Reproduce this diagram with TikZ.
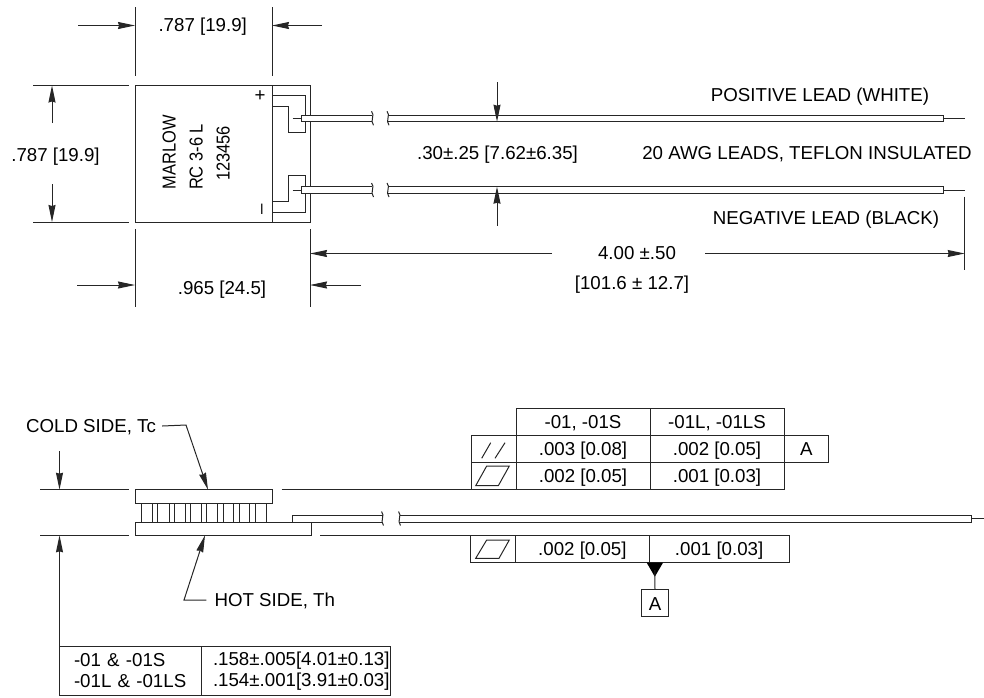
\documentclass[tikz,border=0pt]{standalone}
\usepackage{fontspec}
\setmainfont{Liberation Sans}
\usetikzlibrary{calc,positioning,arrows.meta}
\tikzstyle{line}      = [line width=1pt,draw=black!85]
\tikzstyle{dimarrow}  = [line,-{Stealth[length=17pt,width=7pt,inset=1pt]}]
\tikzstyle{label}     = [font=\fontsize{18.7}{21}\selectfont,inner sep=0pt,text height=13.4pt,text depth=0pt]
\tikzstyle{part}      = [line,rectangle,inner sep=0pt,outer sep=0pt,anchor=north west]
\tikzstyle{cell}      = [part,font=\fontsize{18.7}{21}\selectfont,anchor=center,minimum height=27pt,text height=13.4pt,text depth=0pt]
\newcommand{\breakmark}[2]{\draw[line] (#1-1,#2-7) .. controls (#1+3,#2-3) and (#1-3,#2+2) .. (#1+1,#2+7);}
\begin{document}
\begin{tikzpicture}[x=1pt,y=-1pt]
    \useasboundingbox (0,0) rectangle (984,697);

    % top view, body and tab
    \node[part,minimum width=137pt,minimum height=136.5pt] (body) at (135,85.5) {};
    \node[part,minimum width=38pt,minimum height=136.5pt] (tab) at (272,85.5) {};
    \draw[line] (272,95.7) -- (305.7,95.7) -- (305.7,132) -- (288,132) -- (288,106.7) -- (272,106.7);
    \draw[line] (272,212) -- (305.7,212) -- (305.7,175.7) -- (288,175.7) -- (288,201.7) -- (272,201.7);
    \node[label,rotate=90,transform shape,xscale=.88] (marlow) at (169,152) {MARLOW};
    \node[label,rotate=90,transform shape,xscale=.88] (model) at (196,157) {RC 3-6 L};
    \node[label,rotate=90,transform shape,xscale=.88] (serial) at (223,153.5) {123456};
    \node[label] (plus) at (260,95) {+};
    \node[label,rotate=90] (minus) at (260,209) {–};

    % top view, leads
    \foreach \y in {115,186.7} {
        \draw[line,fill=white] (372,\y) -- (301.5,\y) -- (301.5,\y+6.7) -- (372,\y+6.7);
        \draw[line,fill=white] (388,\y) -- (943,\y) -- (943,\y+6.7) -- (388,\y+6.7);
        \draw[line] (292.7,\y+3.3) -- (301.5,\y+3.3);
        \draw[line] (943,\y+3.3) -- (964.7,\y+3.3);
        \breakmark{372.5}{\y+3.3}
        \breakmark{388}{\y+3.3}
    }
    \node[label] (poslead) at (820,95) {POSITIVE LEAD (WHITE)};
    \node[label] (awg) at (807,153) {20 AWG LEADS, TEFLON INSULATED};
    \node[label] (neglead) at (826,218) {NEGATIVE LEAD (BLACK)};

    % top view, dimensions
    \node[label] (widthtext) at (202.7,25) {.787 [19.9]};
    \node[label] (heighttext) at (55.5,155) {.787 [19.9]};
    \node[label] (lengthtext) at (222,288) {.965 [24.5]};
    \node[label] (spacetext) at (497.5,153) {.30±.25 [7.62±6.35]};
    \node[label] (leadtext) at (637,253) {4.00 ±.50};
    \node[label] (leadmm) at (632,283) {[101.6 ± 12.7]};
    \foreach \name/\x/\y in {wl/78/25.5,wr/322/25.5,hu/52/123,hd/52/184,ll/77/285,lr/361/285,
                             su/497/82,sd/497/225.7,al/552/253.5,ar/705/253.5,
                             wlt/135/25.5,wrt/272/25.5,hut/52/85.5,hdt/52/222,llt/135/285,lrt/310/285,
                             sut/497/121.7,sdt/497/186.7,alt/310/253.5,art/964.7/253.5} {
        \coordinate (\name) at (\x,\y);
    }
    \draw[line] (135,7) -- (135,76);
    \draw[line] (272,7) -- (272,76);
    \draw[line] (33,85.5) -- (129,85.5);
    \draw[line] (33,222) -- (129,222);
    \draw[line] (135,229) -- (135,307);
    \draw[line] (310,229) -- (310,307);
    \draw[line] (964.7,196.7) -- (964.7,270);
    \draw[dimarrow] (wl) -- (wlt);
    \draw[dimarrow] (wr) -- (wrt);
    \draw[dimarrow] (hu) -- (hut);
    \draw[dimarrow] (hd) -- (hdt);
    \draw[dimarrow] (ll) -- (llt);
    \draw[dimarrow] (lr) -- (lrt);
    \draw[dimarrow] (su) -- (sut);
    \draw[dimarrow] (sd) -- (sdt);
    \draw[dimarrow] (al) -- (alt);
    \draw[dimarrow] (ar) -- (art);

    % side view
    \node[part,minimum width=137pt,minimum height=13.5pt] (coldplate) at (135,489.7) {};
    \node[part,minimum width=176pt,minimum height=13.3pt] (hotplate) at (135,522) {};
    \foreach \a/\b in {141.7/152.3,157.7/169,174.3/185,190.3/201,206.3/217.7,223/233.7,239/249.7,255/266.3} {
        \draw[line] (\a,503.2) rectangle (\b,522);
    }
    \draw[line] (382.5,515) -- (292.7,515) -- (292.7,522) -- (382.5,522);
    \draw[line] (399.5,515) -- (971.7,515) -- (971.7,522) -- (399.5,522);
    \draw[line] (971.7,518.4) -- (984,518.4);
    \breakmark{382.5}{518.5}
    \breakmark{399.5}{518.5}
    \draw[line] (40,489.7) -- (129,489.7);
    \draw[line] (281.7,489.7) -- (471,489.7);
    \draw[line] (40,535.3) -- (129,535.3);
    \draw[line] (320,535.3) -- (471,535.3);

    % side view, callouts
    \node[label] (coldtext) at (91,426) {COLD SIDE, Tc};
    \node[label,anchor=west] (hottext) at (214.3,600) {HOT SIDE, Th};
    \coordinate (coldbend) at (186,425);
    \coordinate (coldtip) at (208,489.7);
    \coordinate (hotbend) at (184,600);
    \coordinate (hottip) at (205,535.3);
    \draw[dimarrow] ([xshift=6pt]coldtext.east) -- (coldbend) -- (coldtip);
    \draw[dimarrow] ([xshift=-8pt]hottext.west) -- (hotbend) -- (hottip);
    \coordinate (thickstart) at (59.5,451);
    \coordinate (thicktip) at (59.5,489.7);
    \coordinate (thinstip) at (59.5,535.3);
    \draw[dimarrow] (thickstart) -- (thicktip);

    % thickness table
    \node[part,font=\fontsize{18.7}{21}\selectfont,align=left,text width=113.2pt,inner xsep=14.5pt,minimum height=48.3pt] (partno) at (59.5,646.7)
        {-01 \& -01S\\-01L \& -01LS};
    \node[part,font=\fontsize{18.7}{21}\selectfont,align=left,text width=165.7pt,inner xsep=11.3pt,minimum height=48.3pt] (thick) at (201.7,646.7)
        {.158±.005[4.01±0.13]\\.154±.001[3.91±0.03]};
    \draw[dimarrow] (partno.north west) -- (thinstip);

    % tolerance table, upper
    \node[cell,minimum width=134pt] (h1) at (583,421.8) {-01, -01S};
    \node[cell,minimum width=134pt,right=0pt of h1] (h2) {-01L, -01LS};
    \node[cell,minimum width=134pt,below=0pt of h1] (a1) {.003 [0.08]};
    \node[cell,minimum width=134pt,right=0pt of a1] (a2) {.002 [0.05]};
    \node[cell,minimum width=44.5pt,right=0pt of a2] (a3) {A};
    \node[cell,minimum width=44.5pt,left=0pt of a1] (a0) {};
    \node[cell,minimum width=134pt,below=0pt of a1] (b1) {.002 [0.05]};
    \node[cell,minimum width=134pt,right=0pt of b1] (b2) {.001 [0.03]};
    \node[cell,minimum width=44.5pt,left=0pt of b1] (b0) {};
    \draw[line] (481.7,458.3) -- (490.7,442.7);
    \draw[line] (495,458.3) -- (505,442.7);
    \draw[line] (475.7,485.7) -- (498.3,485.7) -- (509.3,466) -- (486.7,466) -- cycle;

    % tolerance table, lower
    \node[cell,minimum width=44.7pt] (c0) at (493.3,549.2) {};
    \node[cell,minimum width=133.5pt,right=0pt of c0] (c1) {.002 [0.05]};
    \node[cell,minimum width=140pt,right=0pt of c1] (c2) {.001 [0.03]};
    \draw[line] (475.7,558.3) -- (499,558.3) -- (509.3,540) -- (486.7,540) -- cycle;
    \node[cell,minimum width=26.6pt,minimum height=27.3pt] (datum) at (655,603.3) {A};
    \fill[black] (646.7,562.7) -- (663,562.7) -- (654.8,576.7) -- cycle;
    \draw[line] (654.8,570) -- (datum.north);
\end{tikzpicture}
\end{document}
